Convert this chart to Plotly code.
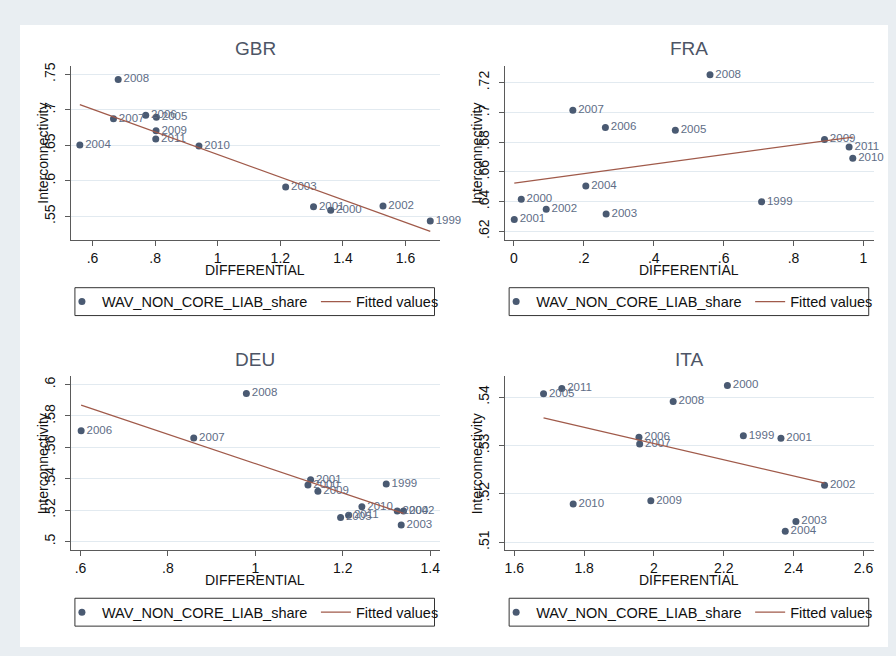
import numpy as np
import plotly.graph_objects as go

FONT = "Liberation Sans, Arial, Helvetica, sans-serif"
W, H = 896, 656

# ---------------- data ----------------
gbr_year = [2008, 2007, 2006, 2005, 2009, 2011, 2004, 2010, 2003, 2001, 2000, 2002, 1999]
gbr_diff = [0.682, 0.667, 0.770, 0.804, 0.803, 0.802, 0.5595, 0.940, 1.217, 1.306, 1.361, 1.528, 1.679]
gbr_inter = [0.7426, 0.6875, 0.6925, 0.6897, 0.6706, 0.6589, 0.6505, 0.649, 0.5912, 0.5636, 0.5585, 0.5645, 0.5435]

fra_year = [2008, 2007, 2006, 2005, 2009, 2011, 2010, 2004, 2000, 1999, 2002, 2003, 2001]
fra_diff = [0.561, 0.1686, 0.2617, 0.4618, 0.8886, 0.959, 0.9695, 0.2057, 0.021, 0.7086, 0.0924, 0.2638, 0.001]
fra_inter = [0.7254, 0.7015, 0.6899, 0.6879, 0.6818, 0.6767, 0.6691, 0.6505, 0.6416, 0.6398, 0.6349, 0.6316, 0.628]

deu_year = [2008, 2006, 2007, 2001, 2000, 1999, 2009, 2010, 2004, 2002, 2011, 2005, 2003]
deu_diff = [0.9794, 0.6014, 0.859, 1.1264, 1.1203, 1.2994, 1.1431, 1.2437, 1.3246, 1.339, 1.2133, 1.195, 1.3337]
deu_inter = [0.5943, 0.5706, 0.566, 0.5393, 0.5361, 0.5366, 0.5321, 0.5222, 0.5195, 0.5195, 0.5167, 0.5154, 0.5106]

ita_year = [2000, 2011, 2005, 2008, 1999, 2006, 2001, 2007, 2002, 2009, 2010, 2003, 2004]
ita_diff = [2.2103, 1.736, 1.6837, 2.055, 2.256, 1.957, 2.3637, 1.959, 2.4886, 1.991, 1.7686, 2.4066, 2.376]
ita_inter = [0.5424, 0.5418, 0.5407, 0.5391, 0.532, 0.5317, 0.5315, 0.5303, 0.5218, 0.5186, 0.5179, 0.5143, 0.5123]

gbr_xticks = [0.6, 0.8, 1.0, 1.2, 1.4, 1.6]
gbr_xlabels = [".6", ".8", "1", "1.2", "1.4", "1.6"]
gbr_yticks = [0.55, 0.6, 0.65, 0.7, 0.75]
gbr_ylabels = [".55", ".6", ".65", ".7", ".75"]

fra_xticks = [0, 0.2, 0.4, 0.6, 0.8, 1.0]
fra_xlabels = ["0", ".2", ".4", ".6", ".8", "1"]
fra_yticks = [0.62, 0.64, 0.66, 0.68, 0.70, 0.72]
fra_ylabels = [".62", ".64", ".66", ".68", ".7", ".72"]

deu_xticks = [0.6, 0.8, 1.0, 1.2, 1.4]
deu_xlabels = [".6", ".8", "1", "1.2", "1.4"]
deu_yticks = [0.50, 0.52, 0.54, 0.56, 0.58, 0.60]
deu_ylabels = [".5", ".52", ".54", ".56", ".58", ".6"]

ita_xticks = [1.6, 1.8, 2.0, 2.2, 2.4, 2.6]
ita_xlabels = ["1.6", "1.8", "2", "2.2", "2.4", "2.6"]
ita_yticks = [0.51, 0.52, 0.53, 0.54]
ita_ylabels = [".51", ".52", ".53", ".54"]

series_name = "WAV_NON_CORE_LIAB_share"
fit_name = "Fitted values"
x_title = "DIFFERENTIAL"
y_title = "Interconnectivity"

# ---------------- styling ----------------
BG = "#E9EEF2"
MARKER = "#4A5A72"
LABEL = "#5E6D86"
FIT = "#A05A4A"
AXIS = "#5A5A5A"
GRID = "#E2EAF0"
TITLE = "#4D5566"

panels = [
    dict(title="GBR", year=gbr_year, x=gbr_diff, y=gbr_inter,
         xt=gbr_xticks, xl=gbr_xlabels, yt=gbr_yticks, yl=gbr_ylabels,
         xr=[0.531, 1.7085], yr=[0.5168, 0.7622],
         px=(71, 440), py=(63, 238), leg="legend", box=(75, 435), legy=300),
    dict(title="FRA", year=fra_year, x=fra_diff, y=fra_inter,
         xt=fra_xticks, xl=fra_xlabels, yt=fra_yticks, yl=fra_ylabels,
         xr=[-0.0257, 1.0294], yr=[0.6142, 0.7314],
         px=(505.5, 874.7), py=(63, 238), leg="legend2", box=(509.7, 869.7), legy=300),
    dict(title="DEU", year=deu_year, x=deu_diff, y=deu_inter,
         xt=deu_xticks, xl=deu_xlabels, yt=deu_yticks, yl=deu_ylabels,
         xr=[0.578, 1.4213], yr=[0.4943, 0.6053],
         px=(71, 440), py=(375, 550), leg="legend3", box=(75, 435), legy=612),
    dict(title="ITA", year=ita_year, x=ita_diff, y=ita_inter,
         xt=ita_xticks, xl=ita_xlabels, yt=ita_yticks, yl=ita_ylabels,
         xr=[1.5731, 2.6294], yr=[0.5083, 0.5443],
         px=(505.5, 874.7), py=(375, 550), leg="legend4", box=(509.7, 869.7), legy=612),
]


def fx(px):
    return px / W


def fy(py):
    return 1 - py / H


fig = go.Figure()
layout = dict(
    width=W, height=H, autosize=False,
    margin=dict(l=0, r=0, t=0, b=0, pad=0),
    paper_bgcolor=BG, plot_bgcolor="white",
    font=dict(family=FONT, color="#111111", size=14),
    showlegend=True,
    annotations=[], shapes=[],
)

# white graph region
layout["shapes"].append(dict(type="rect", xref="paper", yref="paper",
                             x0=fx(20), x1=fx(889), y0=fy(647), y1=fy(22),
                             fillcolor="white", line=dict(width=0), layer="below"))

for i, p in enumerate(panels, start=1):
    xa = "x" if i == 1 else f"x{i}"
    ya = "y" if i == 1 else f"y{i}"
    xkey = "xaxis" if i == 1 else f"xaxis{i}"
    ykey = "yaxis" if i == 1 else f"yaxis{i}"

    xs = np.array(p["x"], dtype=float)
    ys = np.array(p["y"], dtype=float)
    slope, icpt = np.polyfit(xs, ys, 1)
    order = np.argsort(xs)
    fit_x = xs[order][[0, -1]]
    fit_y = icpt + slope * fit_x

    # markers (legend entry)
    fig.add_trace(go.Scatter(
        x=p["x"], y=p["y"], mode="markers", name=series_name,
        marker=dict(color=MARKER, size=7, line=dict(width=0)),
        xaxis=xa, yaxis=ya, legend=p["leg"], legendwidth=209,
        hoverinfo="skip"))
    # year labels
    fig.add_trace(go.Scatter(
        x=p["x"], y=p["y"], mode="markers+text", text=[str(v) for v in p["year"]],
        textposition="middle right",
        textfont=dict(family=FONT, size=11.5, color=LABEL),
        marker=dict(color="rgba(0,0,0,0)", size=7),
        cliponaxis=False, showlegend=False,
        xaxis=xa, yaxis=ya, hoverinfo="skip"))
    # fitted values
    fig.add_trace(go.Scatter(
        x=fit_x, y=fit_y, mode="lines", name=fit_name,
        line=dict(color=FIT, width=1.3),
        xaxis=xa, yaxis=ya, legend=p["leg"], legendwidth=90,
        hoverinfo="skip"))

    x0, x1 = p["px"]
    y0, y1 = p["py"]
    layout[xkey] = dict(
        domain=[fx(x0), fx(x1)], range=p["xr"], anchor=ya,
        tickmode="array", tickvals=p["xt"], ticktext=p["xl"],
        ticks="outside", ticklen=5, tickcolor=AXIS, tickwidth=1,
        showline=True, linecolor=AXIS, linewidth=1,
        showgrid=False, zeroline=False,
        tickfont=dict(family=FONT, size=14, color="#111111"))
    layout[ykey] = dict(
        domain=[fy(y1), fy(y0)], range=p["yr"], anchor=xa,
        tickmode="array", tickvals=p["yt"], ticktext=p["yl"], tickangle=-90,
        ticks="outside", ticklen=5, tickcolor=AXIS, tickwidth=1,
        ticklabelstandoff=4,
        showline=True, linecolor=AXIS, linewidth=1,
        showgrid=True, gridcolor=GRID, gridwidth=1, zeroline=False,
        tickfont=dict(family=FONT, size=14, color="#111111"))

    cx = (x0 + x1) / 2
    cy = (y0 + y1) / 2
    # panel title
    layout["annotations"].append(dict(
        text=p["title"], xref="paper", yref="paper", x=fx(cx), y=fy(y0 - 17),
        xanchor="center", yanchor="middle", showarrow=False,
        font=dict(family=FONT, size=19, color=TITLE)))
    # x title
    layout["annotations"].append(dict(
        text=x_title, xref="paper", yref="paper", x=fx(cx), y=fy(y1 + 30),
        xanchor="center", yanchor="middle", showarrow=False,
        font=dict(family=FONT, size=14, color="#111111")))
    # y title
    layout["annotations"].append(dict(
        text=y_title, xref="paper", yref="paper", x=fx(x0 - 28), y=fy(cy),
        xanchor="center", yanchor="middle", textangle=-90, showarrow=False,
        font=dict(family=FONT, size=14, color="#111111")))

    # legend frame
    bx0, bx1 = p["box"]
    ly = p["legy"]
    layout["shapes"].append(dict(
        type="rect", xref="paper", yref="paper",
        x0=fx(bx0), x1=fx(bx1), y0=fy(ly + 14), y1=fy(ly - 14),
        fillcolor="white", line=dict(color="#333333", width=1), layer="below"))
    layout[p["leg"]] = dict(
        x=fx(bx0 - 13), y=fy(ly), xanchor="left", yanchor="middle",
        orientation="h", bgcolor="rgba(0,0,0,0)", borderwidth=0,
        font=dict(family=FONT, size=14.5, color="#111111"),
        itemclick=False, itemdoubleclick=False)

fig.update_layout(**layout)
fig.write_html(
    "out.html",
    config={"displayModeBar": False},
    post_script="document.body.style.margin='0px';document.body.style.overflow='hidden';",
)
